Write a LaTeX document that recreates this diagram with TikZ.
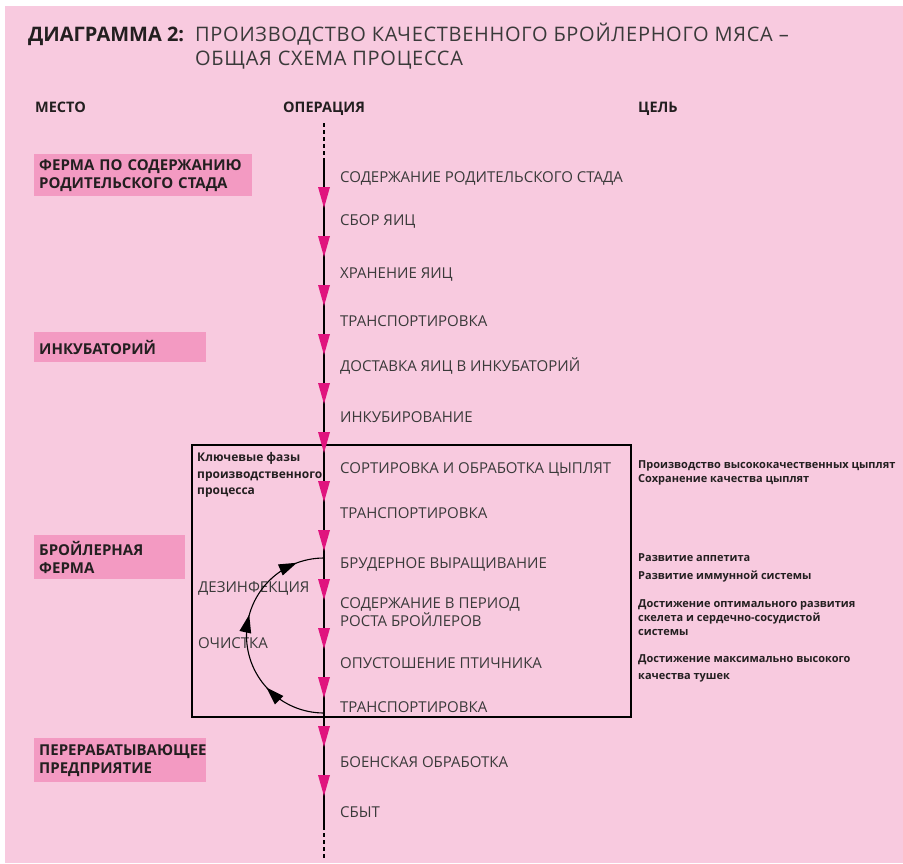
\documentclass[tikz,border=0pt]{standalone}
\usepackage{fontspec}
\setmainfont{Open Sans}
\usepackage{tikz}
\usetikzlibrary{arrows.meta,decorations.markings}
\definecolor{bgpink}{HTML}{F8CADF}
\definecolor{placepink}{HTML}{F39AC2}
\definecolor{flowpink}{HTML}{E0147E}
\definecolor{opgray}{HTML}{3A3A3A}
\definecolor{inkdark}{HTML}{231F20}

\newcommand{\cyctip}{\fill[black] (4pt,0pt) -- (-14pt,6pt) -- (-14pt,-6pt) -- cycle;}

\tikzset{
  operation/.style={anchor=base west, inner sep=0pt, text=opgray, font=\fontsize{15}{16}\selectfont},
  header/.style={anchor=base west, inner sep=0pt, text=inkdark, font=\bfseries\fontsize{14.5}{16}\selectfont},
  place/.style={fill=placepink, anchor=north west, inner xsep=5pt, inner ysep=0pt, align=left, text=inkdark, font=\bfseries\fontsize{15}{18}\selectfont},
  goal/.style={inner sep=0pt, align=left, text=inkdark, font=\bfseries\fontsize{11}{14}\selectfont},
  axisline/.style={line width=1.3pt, draw=black},
  cycleline/.style={line width=1.1pt, draw=black, postaction={decorate},
    decoration={markings,
      mark=at position 0.25 with {\cyctip},
      mark=at position 0.57 with {\cyctip},
      mark=at position 0.87 with {\cyctip}}},
}

\begin{document}
\begin{tikzpicture}[x=1pt,y=-1pt]
    \useasboundingbox (0,0) rectangle (903,863);
    % Background
    \fill[white] (0,0) rectangle (903,863);
    \fill[bgpink] (5,6) rectangle (903,863);

    % Title
    \node[anchor=base west, inner sep=0pt, text=inkdark, font=\bfseries\fontsize{20}{24}\selectfont] (titleNum) at (28,41) {ДИАГРАММА 2:};
    \node[anchor=base west, inner sep=0pt, text=opgray, font=\fontsize{20}{24}\selectfont\addfontfeature{LetterSpace=3.5}] (titleA) at (195,41) {ПРОИЗВОДСТВО КАЧЕСТВЕННОГО БРОЙЛЕРНОГО МЯСА –};
    \node[anchor=base west, inner sep=0pt, text=opgray, font=\fontsize{20}{24}\selectfont\addfontfeature{LetterSpace=3.5}] (titleB) at (195,65) {ОБЩАЯ СХЕМА ПРОЦЕССА};

    % Column headers
    \node[header] (hdPlace) at (35,112) {МЕСТО};
    \node[header] (hdOper) at (283,112) {ОПЕРАЦИЯ};
    \node[header] (hdGoal) at (638,112) {ЦЕЛЬ};

    % Places
    \node[place, minimum height=42pt, text width=208pt] (plParent) at (34,154) {ФЕРМА ПО СОДЕРЖАНИЮ\\РОДИТЕЛЬСКОГО СТАДА};
    \node[place, minimum height=30pt, text width=162pt] (plHatch) at (34,332) {ИНКУБАТОРИЙ};
    \node[place, minimum height=44pt, text width=141pt] (plBroiler) at (34,535) {БРОЙЛЕРНАЯ\\ФЕРМА};
    \node[place, minimum height=44pt, text width=162pt] (plPlant) at (34,738) {ПЕРЕРАБАТЫВАЮЩЕЕ\\ПРЕДПРИЯТИЕ};

    % Key phases frame
    \draw[line width=1.2pt] (192,445) rectangle (631,717);
    \node[goal, anchor=north west, font=\bfseries\fontsize{12}{16.5}\selectfont] (keyPhases) at (197,452.4) {Ключевые фазы\\производственного\\процесса};

    % Axis
    \coordinate (axTop) at (324,123);
    \coordinate (axStart) at (324,159);
    \coordinate (axEnd) at (324,826);
    \coordinate (axBottom) at (324,858);
    \draw[axisline, dash pattern=on 4pt off 3pt] (axTop) -- (axStart);
    \draw[axisline] (axStart) -- (axEnd);
    \draw[axisline, dash pattern=on 4pt off 3pt] (axEnd) -- (axBottom);
    \foreach \k in {0,...,12}
      \fill[flowpink] (318,187+49*\k) -- (330,187+49*\k) -- (324,208+49*\k) -- cycle;

    % Operations
    \node[operation] (opFlock) at (340,182.5) {СОДЕРЖАНИЕ РОДИТЕЛЬСКОГО СТАДА};
    \node[operation] (opCollect) at (340,225.5) {СБОР ЯИЦ};
    \node[operation] (opStore) at (340,278.5) {ХРАНЕНИЕ ЯИЦ};
    \node[operation] (opTransA) at (340,326.5) {ТРАНСПОРТИРОВКА};
    \node[operation] (opDeliver) at (340,371.5) {ДОСТАВКА ЯИЦ В ИНКУБАТОРИЙ};
    \node[operation] (opIncub) at (340,422.5) {ИНКУБИРОВАНИЕ};
    \node[operation] (opSort) at (340,473.5) {СОРТИРОВКА И ОБРАБОТКА ЦЫПЛЯТ};
    \node[operation] (opTransB) at (340,518.5) {ТРАНСПОРТИРОВКА};
    \node[operation] (opBrood) at (340,568.5) {БРУДЕРНОЕ ВЫРАЩИВАНИЕ};
    \node[operation, anchor=north west, align=left] (opGrow) at (340,597.7) {СОДЕРЖАНИЕ В ПЕРИОД\\РОСТА БРОЙЛЕРОВ};
    \node[operation] (opEmpty) at (340,668.5) {ОПУСТОШЕНИЕ ПТИЧНИКА};
    \node[operation] (opTransC) at (340,712.5) {ТРАНСПОРТИРОВКА};
    \node[operation] (opSlaughter) at (340,767.5) {БОЕНСКАЯ ОБРАБОТКА};
    \node[operation] (opSale) at (340,817.5) {СБЫТ};

    % Cleaning cycle
    \node[operation] (cyDisinf) at (198,592.4) {ДЕЗИНФЕКЦИЯ};
    \node[operation] (cyClean) at (198,648.4) {ОЧИСТКА};
    \coordinate (cycBot) at (324,713);
    \coordinate (cycLeft) at (246.5,635.5);
    \coordinate (cycTop) at (324,558);
    \draw[cycleline] (cycBot) .. controls +(-42.8,0) and +(0,42.8) .. (cycLeft)
      .. controls +(0,-42.8) and +(-42.8,0) .. (cycTop);

    % Goals
    \node[goal, anchor=base west] (glChicks) at (638,468.5) {Производство высококачественных цыплят};
    \node[goal, anchor=base west] (glQuality) at (638,482.5) {Сохранение качества цыплят};
    \node[goal, anchor=base west] (glAppetite) at (638,561.5) {Развитие аппетита};
    \node[goal, anchor=base west] (glImmune) at (638,579.5) {Развитие иммунной системы};
    \node[goal, anchor=north west] (glSkeleton) at (638,599.2) {Достижение оптимального развития\\скелета и сердечно-сосудистой\\системы};
    \node[goal, anchor=north west, font=\bfseries\fontsize{11}{17}\selectfont] (glCarcass) at (638,654.2) {Достижение максимально высокого\\качества тушек};
\end{tikzpicture}
\end{document}
